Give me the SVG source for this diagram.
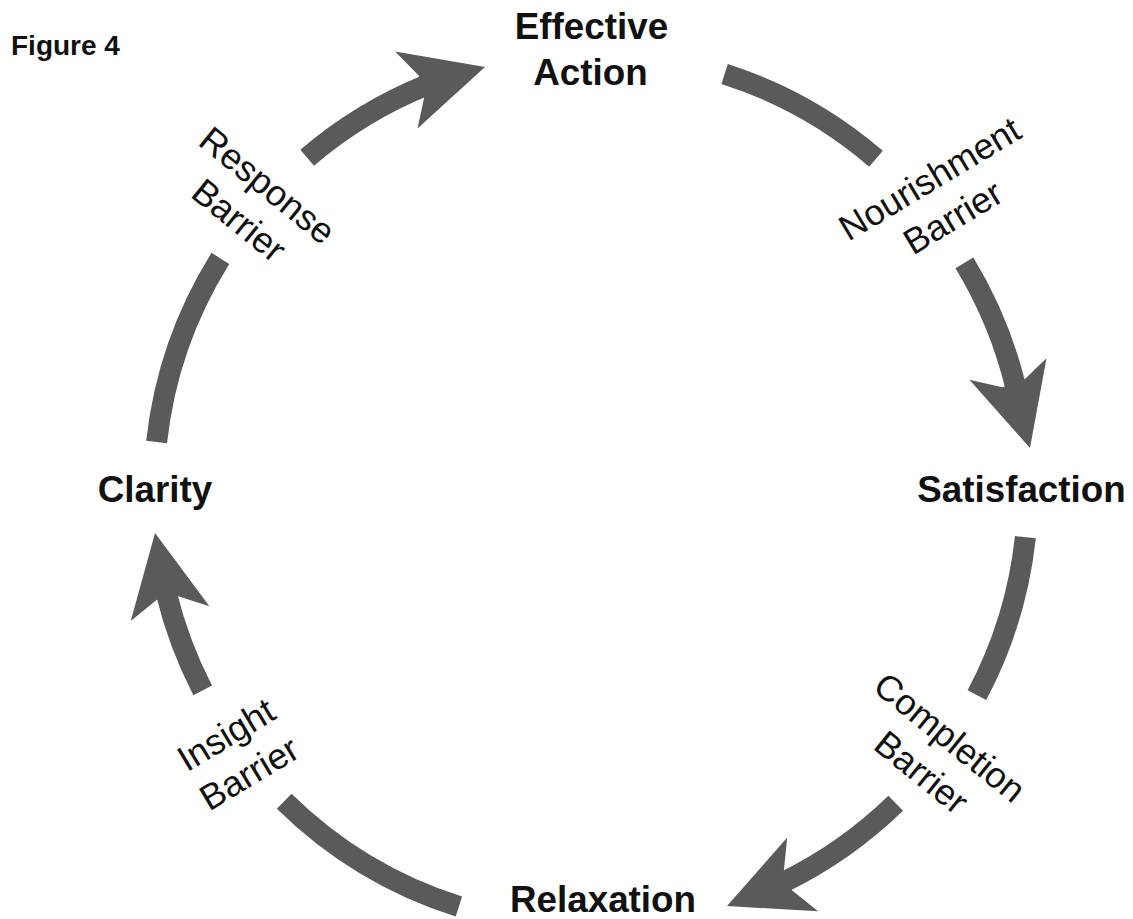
<svg xmlns="http://www.w3.org/2000/svg" width="1133" height="919" viewBox="0 0 1133 919">
  <style>
    .arc { fill: none; stroke: #5a5a5a; stroke-width: 21; stroke-linecap: butt; }
    .head { fill: #5a5a5a; }
    .node { font-family: "Liberation Sans", Arial, sans-serif; font-weight: bold; font-size: 36.8px; fill: #111; text-anchor: middle; }
    .barrier { font-family: "Liberation Sans", Arial, sans-serif; font-size: 36px; fill: #111; text-anchor: middle; }
    .title { font-family: "Liberation Sans", Arial, sans-serif; font-weight: bold; font-size: 28px; fill: #111; }
  </style>
  <defs>
    <polygon id="ah" points="0,0 -82,-40 -66,-10.5 -66,10.5 -82,40"/>
  </defs>
  <rect width="1133" height="919" fill="#ffffff"/>

  <text class="title" x="11" y="55">Figure 4</text>

  <g id="connectors">
    <!-- plain arcs -->
    <path class="arc" d="M156.6,442 A437,437 0 0 1 220.4,258.4"/>
    <path class="arc" d="M724.6,73.9 A437,437 0 0 1 876,158.7"/>
    <path class="arc" d="M1025.4,537.2 A437,437 0 0 1 976.9,695.2"/>
    <path class="arc" d="M458.9,906.5 A437,437 0 0 1 284.2,801.2"/>
    <!-- arrows -->
    <path class="arc" d="M307.2,157.7 A437,437 0 0 1 427.3,84.8"/>
    <use href="#ah" class="head" transform="translate(485,67) rotate(-16.3)"/>
    <path class="arc" d="M964.4,262.9 A437,437 0 0 1 1015.9,388"/>
    <use href="#ah" class="head" transform="translate(1030,448) rotate(74.4)"/>
    <path class="arc" d="M895.7,803.3 A437,437 0 0 1 783.9,882.1"/>
    <use href="#ah" class="head" transform="translate(727,906) rotate(157.3)"/>
    <path class="arc" d="M202.7,690.4 A437,437 0 0 1 166.4,593.5"/>
    <use href="#ah" class="head" transform="translate(155,533) rotate(-100.6)"/>
  </g>

  <g id="effective-action">
    <text class="node" x="591.5" y="39">Effective</text>
    <text class="node" x="590.5" y="85">Action</text>
  </g>
  <g id="satisfaction">
    <text class="node" x="1021.5" y="502">Satisfaction</text>
  </g>
  <g id="relaxation">
    <text class="node" x="603" y="912">Relaxation</text>
  </g>
  <g id="clarity">
    <text class="node" x="155" y="502">Clarity</text>
  </g>

  <g id="response-barrier" transform="translate(254,202) rotate(39)">
    <text class="barrier" x="0" y="-9">Response</text>
    <text class="barrier" x="0" y="36">Barrier</text>
  </g>
  <g id="nourishment-barrier" transform="translate(940.7,197) rotate(-31)">
    <text class="barrier" x="0" y="-9">Nourishment</text>
    <text class="barrier" x="0" y="36">Barrier</text>
  </g>
  <g id="completion-barrier" transform="translate(936.3,754) rotate(39)">
    <text class="barrier" x="0" y="-9">Completion</text>
    <text class="barrier" x="0" y="36">Barrier</text>
  </g>
  <g id="insight-barrier" transform="translate(237,753) rotate(-31)">
    <text class="barrier" x="0" y="-9">Insight</text>
    <text class="barrier" x="0" y="36">Barrier</text>
  </g>
</svg>
